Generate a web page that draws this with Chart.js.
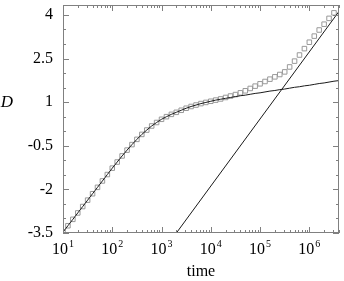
<!DOCTYPE html>
<html>
<head>
<meta charset="utf-8">
<script src="https://cdn.jsdelivr.net/npm/chart.js@4"></script>
<style>
  body { margin: 0; background: #fff; }
  canvas { display: block; }
</style>
</head>
<body>
<canvas id="myChart" width="344" height="281"></canvas>
<script>
// log10 of time for each sample
const timeExp = [1.0, 1.1, 1.2, 1.3, 1.4, 1.5, 1.6, 1.7, 1.8, 1.9,
                 2.0, 2.1, 2.2, 2.3, 2.4, 2.5, 2.6, 2.7, 2.8, 2.9,
                 3.0, 3.1, 3.2, 3.3, 3.4, 3.5, 3.6, 3.7, 3.8, 3.9,
                 4.0, 4.1, 4.2, 4.3, 4.4, 4.5, 4.6, 4.7, 4.8, 4.9,
                 5.0, 5.1, 5.2, 5.3, 5.4, 5.5, 5.6, 5.7, 5.8, 5.9,
                 6.0, 6.1, 6.2, 6.3, 6.4, 6.5, 6.6];

// solid fit curve
const fitD = [-3.47, -3.25, -3.03, -2.81, -2.59, -2.37, -2.15, -1.93, -1.71, -1.49,
              -1.27, -1.06, -0.85, -0.65, -0.46, -0.28, -0.11, 0.04, 0.18, 0.30,
              0.41, 0.50, 0.58, 0.65, 0.72, 0.79, 0.85, 0.90, 0.95, 0.99,
              1.03, 1.07, 1.10, 1.13, 1.16, 1.19, 1.22, 1.24, 1.27, 1.30,
              1.32, 1.35, 1.38, 1.40, 1.43, 1.45, 1.48, 1.51, 1.53, 1.56,
              1.58, 1.61, 1.64, 1.66, 1.69, 1.72, 1.74];

// open squares (simulation)
const simD = [-3.47, -3.25, -3.03, -2.81, -2.59, -2.37, -2.15, -1.93, -1.71, -1.49,
              -1.27, -1.06, -0.85, -0.65, -0.46, -0.28, -0.11, 0.04, 0.18, 0.30,
              0.41, 0.50, 0.58, 0.65, 0.72, 0.79, 0.85, 0.90, 0.95, 0.99,
              1.03, 1.07, 1.11, 1.16, 1.21, 1.26, 1.32, 1.39, 1.47, 1.55,
              1.63, 1.71, 1.79, 1.87, 1.95, 2.04, 2.21, 2.41, 2.62, 2.84,
              3.06, 3.27, 3.48, 3.68, 3.88, 4.07];

// long-time asymptote
const steepTime = [2000, 4000000];
const steepD = [-3.5, 4.12];

const xTickExps = [1, 2, 3, 4, 5, 6];
const yTicks = [-3.5, -2, -0.5, 1, 2.5, 4];

const toPoints = (exps, vals) => vals.map((v, i) => ({ x: Math.pow(10, exps[i]), y: v }));

// frame, inward ticks and labels drawn by hand (gnuplot look)
const framePlugin = {
  id: 'framePlugin',
  afterDraw(chart) {
    const { ctx, chartArea: a, scales: { x, y } } = chart;
    ctx.save();
    ctx.strokeStyle = '#808080';
    ctx.lineWidth = 1;
    ctx.strokeRect(a.left + 0.5, a.top + 0.5, a.right - a.left - 1, a.bottom - a.top - 1);

    ctx.beginPath();
    // x ticks
    for (let k = 1; k <= 6; k++) {
      for (let m = 1; m <= 9; m++) {
        const v = m * Math.pow(10, k);
        if (v > x.max) break;
        const px = Math.round(x.getPixelForValue(v)) + 0.5;
        const len = m === 1 ? 6 : 3;
        ctx.moveTo(px, a.bottom); ctx.lineTo(px, a.bottom - len);
        ctx.moveTo(px, a.top); ctx.lineTo(px, a.top + len);
      }
    }
    // y ticks, minor every 0.5
    for (let v = -3.5; v <= 4.001; v += 0.5) {
      const py = Math.round(y.getPixelForValue(v)) + 0.5;
      const major = yTicks.some(t => Math.abs(t - v) < 1e-6);
      const len = major ? 6 : 3;
      ctx.moveTo(a.left, py); ctx.lineTo(a.left + len, py);
      ctx.moveTo(a.right, py); ctx.lineTo(a.right - len, py);
    }
    ctx.stroke();

    ctx.fillStyle = '#000';
    ctx.font = '16px "Liberation Serif", "DejaVu Serif", serif';
    ctx.textAlign = 'right';
    ctx.textBaseline = 'middle';
    yTicks.forEach(t => {
      ctx.fillText(String(t), a.left - 10, y.getPixelForValue(t));
    });

    // x labels 10^k
    ctx.textAlign = 'left';
    xTickExps.forEach(k => {
      const px = x.getPixelForValue(Math.pow(10, k));
      ctx.font = '16px "Liberation Serif", serif';
      const w1 = ctx.measureText('10').width;
      ctx.font = '10px "Liberation Serif", serif';
      const w2 = ctx.measureText(String(k)).width;
      const left = px - (w1 + w2 + 1) / 2;
      ctx.font = '16px "Liberation Serif", serif';
      ctx.fillText('10', left, a.bottom + 17);
      ctx.font = '10px "Liberation Serif", serif';
      ctx.fillText(String(k), left + w1 + 1, a.bottom + 11);
    });

    ctx.textAlign = 'center';
    ctx.font = '16px "Liberation Serif", serif';
    ctx.fillText('time', (a.left + a.right) / 2, a.bottom + 39);
    ctx.font = 'italic 17px "Liberation Serif", serif';
    ctx.fillText('D', 7, y.getPixelForValue(1));
    ctx.restore();
  }
};

const ctx = document.getElementById('myChart').getContext('2d');
const myChart = new Chart(ctx, {
  type: 'scatter',
  data: {
    datasets: [
      {
        data: toPoints(timeExp, fitD),
        showLine: true,
        borderColor: '#1a1a1a',
        borderWidth: 1,
        pointRadius: 0,
        cubicInterpolationMode: 'monotone'
      },
      {
        data: steepTime.map((t, i) => ({ x: t, y: steepD[i] })),
        showLine: true,
        borderColor: '#1a1a1a',
        borderWidth: 1,
        pointRadius: 0
      },
      {
        data: toPoints(timeExp, simD),
        showLine: false,
        pointStyle: 'rect',
        pointRadius: 3.2,
        borderColor: '#999999',
        borderWidth: 1,
        backgroundColor: 'rgba(0,0,0,0)'
      }
    ]
  },
  options: {
    responsive: false,
    animation: false,
    layout: { padding: { left: 63, right: 1, top: 0, bottom: 48 } },
    plugins: { legend: { display: false }, tooltip: { enabled: false } },
    scales: {
      x: { type: 'logarithmic', min: 10, max: 4000000, display: false },
      y: { min: -3.5, max: 4.34, display: false }
    }
  },
  plugins: [framePlugin]
});
</script>
</body>
</html>
